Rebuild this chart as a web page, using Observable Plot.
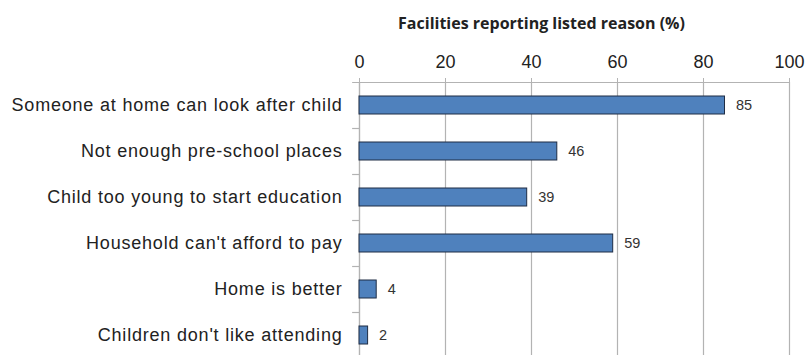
<!DOCTYPE html>
<html>
<head>
<meta charset="utf-8">
<script src="https://cdn.jsdelivr.net/npm/d3@7"></script>
<script src="https://cdn.jsdelivr.net/npm/@observablehq/plot@0.6"></script>
<style>
  html, body { margin: 0; padding: 0; background: #fff; }
  #chart svg { display: block; }
  #chart g[aria-label="y-axis tick label"] text { letter-spacing: 0.8px; }
</style>
</head>
<body>
<div id="chart"></div>
<script>
const categories = [
  "Someone at home can look after child",
  "Not enough pre-school places",
  "Child too young to start education",
  "Household can't afford to pay",
  "Home is better",
  "Children don't like attending"
];
const values = [85, 46, 39, 59, 4, 2];
const xTicks = [0, 20, 40, 60, 80, 100];
const title = "Facilities reporting listed reason (%)";

const data = categories.map((c, i) => ({category: c, value: values[i]}));
const step = 46;
const font = "Liberation Sans, Arial, sans-serif";

const chart = Plot.plot({
  width: 806,
  height: 360,
  marginTop: 82,
  marginBottom: 2,
  marginLeft: 359,
  marginRight: 17,
  style: {fontFamily: font, background: "#fff", color: "#222"},
  x: {domain: [0, 100], ticks: xTicks},
  y: {domain: categories, paddingInner: 0.6, paddingOuter: 0.3},
  marks: [
    Plot.gridX(xTicks, {stroke: "#b3b3b3", strokeOpacity: 1, strokeWidth: 1.2}),
    // top axis line
    Plot.ruleY([categories[0]], {x1: -1.6, x2: 100, dy: -step / 2, stroke: "#b3b3b3", strokeWidth: 1.2}),
    // left axis line
    Plot.ruleX([0], {stroke: "#b3b3b3", strokeWidth: 1.2}),
    // left band boundary ticks
    Plot.ruleY(categories, {x1: -1.6, x2: 0, dy: step / 2, stroke: "#b3b3b3", strokeWidth: 1.2}),
    Plot.axisX({anchor: "top", ticks: xTicks, tickSize: 5, tickPadding: 10, fontSize: 18, stroke: "#b3b3b3", fill: "#222", label: null}),
    Plot.axisY({tickSize: 0, tickPadding: 17, fontSize: 18, fill: "#222", label: null}),
    Plot.barX(data, {x: "value", y: "category", fill: "#4F81BD", stroke: "#1F2D45", strokeWidth: 1}),
    Plot.text(data, {x: "value", y: "category", text: d => String(d.value), textAnchor: "start", dx: 11, fontSize: 14.5, fill: "#333"}),
    Plot.text([title], {frameAnchor: "top", dx: -33, dy: -65, fontWeight: "bold", fontSize: 16, fontFamily: "Open Sans, sans-serif", fill: "#222"})
  ]
});
document.getElementById("chart").appendChild(chart);
</script>
</body>
</html>
